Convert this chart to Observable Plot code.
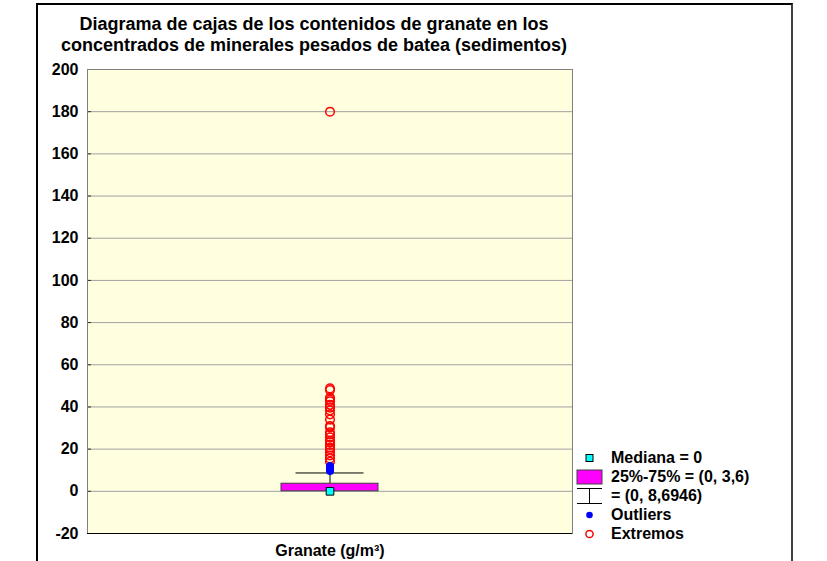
<!DOCTYPE html>
<html>
<head>
<meta charset="utf-8">
<script src="https://cdn.jsdelivr.net/npm/d3@7"></script>
<script src="https://cdn.jsdelivr.net/npm/@observablehq/plot@0.6"></script>
<style>
  html, body { margin: 0; padding: 0; background: #fff; }
  #wrap { position: relative; width: 827px; height: 561px; overflow: hidden; font-family: "Liberation Sans", Arial, sans-serif; font-weight: bold; color: #000; }
  #outer { position: absolute; left: 36px; top: 3px; width: 757px; height: 620px; border: 2px solid #000; border-right-color: #404040; box-sizing: border-box; }
  #title { position: absolute; left: 58px; width: 512px; top: 14px; text-align: center; font-size: 18px; line-height: 21px; white-space: nowrap; }
  #chart { position: absolute; left: 0; top: 0; }
  .leg { position: absolute; left: 576px; height: 20px; display: flex; align-items: center; font-size: 16px; white-space: nowrap; }
  .leg svg { width: 27px; height: 20px; margin-right: 8px; flex: none; }
</style>
</head>
<body>
<div id="wrap">
  <div id="outer"></div>
  <div id="chart"></div>
  <div id="title"></div>
  <div id="legend"></div>
</div>
<script>
// ---- data ----
const titleLines = [
  "Diagrama de cajas de los contenidos de granate en los",
  "concentrados de minerales pesados de batea (sedimentos)"
];
const categories = ["Granate (g/m³)"];
const yTicks = [-20, 0, 20, 40, 60, 80, 100, 120, 140, 160, 180, 200];
const medianValues = [0];
const q1Values = [0];
const q3Values = [3.6];
const whiskerLow = [0];
const whiskerHigh = [8.6946];
const outlierValues = [9.6, 10.2, 10.8, 11.4, 12];
const extremeValues = [14, 15.6, 17, 18.5, 20, 20.8, 22, 23.2, 24, 25.6, 27, 28, 30.3, 31, 34, 36.5, 38.4, 39.7, 41, 42.7, 43.5, 44.5, 48, 48.8, 180];
const legendLabels = ["Mediana = 0", "25%-75% = (0, 3,6)", "= (0, 8,6946)", "Outliers", "Extremos"];

// ---- build ----
const cat = categories[0];
const boxes = categories.map((c, i) => ({c, q1: q1Values[i], q3: q3Values[i], med: medianValues[i], lo: whiskerLow[i], hi: whiskerHigh[i]}));

const chart = Plot.plot({
  width: 827,
  height: 561,
  marginLeft: 87,
  marginRight: 255,
  marginTop: 69,
  marginBottom: 28,
  style: {fontFamily: "'Liberation Sans', Arial, sans-serif", fontSize: "16px", fontWeight: "bold", background: "transparent", color: "#000"},
  x: {type: "band", domain: categories, padding: 0.6667, label: null},
  y: {domain: [-20, 200], ticks: yTicks, label: null},
  marks: [
    Plot.frame({fill: "#ffffe0"}),
    Plot.ruleY(yTicks.filter(t => t > -20 && t < 200), {stroke: "#a0a0a0", strokeWidth: 1}),
    Plot.ruleY(yTicks, {stroke: "#303030", insetRight: 481}),
    Plot.frame({stroke: "#808080"}),
    Plot.ruleY([-20], {stroke: "#000"}),
    Plot.ruleX(boxes, {x: "c", y1: "q3", y2: "hi", stroke: "#000"}),
    Plot.tickY(boxes, {x: "c", y: "hi", stroke: "#000", insetLeft: 14.5, insetRight: 14.5}),
    Plot.barY(boxes, {x: "c", y1: "q1", y2: "q3", fill: "#ff00ff", stroke: "#404040", strokeWidth: 1}),
    Plot.dot(extremeValues, {x: () => cat, y: d => d, r: 4.3, stroke: "#ff0000", strokeWidth: 1.5, fill: "none"}),
    Plot.dot(outlierValues, {x: () => cat, y: d => d, r: 4, fill: "#0000ff", stroke: "none"}),
    Plot.dot(boxes, {x: "c", y: "med", symbol: "square", r: 4.3, fill: "#00ffff", stroke: "#000", strokeWidth: 1}),
    Plot.axisY({ticks: yTicks, tickSize: 0, tickPadding: 9, tickFormat: d => String(d), label: null}),
    Plot.axisX({tickSize: 0, tickPadding: 11, label: null})
  ]
});
document.getElementById("chart").appendChild(chart);

document.getElementById("title").innerHTML = titleLines.join("<br>");

// ---- legend (HTML) ----
const sym = [
  '<rect x="10" y="6.5" width="7" height="7" fill="#00ffff" stroke="#000" stroke-width="1"/>',
  '<rect x="1" y="3" width="25" height="14" fill="#ff00ff" stroke="#404040" stroke-width="1"/>',
  '<line x1="1" y1="2.5" x2="26" y2="2.5" stroke="#000"/><line x1="13.5" y1="2.5" x2="13.5" y2="17.5" stroke="#000"/><line x1="1" y1="17.5" x2="26" y2="17.5" stroke="#000"/>',
  '<circle cx="13.5" cy="10" r="3.3" fill="#0000ff"/>',
  '<circle cx="13.5" cy="10" r="3.6" fill="none" stroke="#ff0000" stroke-width="1.5"/>'
];
const rowTops = [448, 467, 486, 505, 524];
const leg = document.getElementById("legend");
legendLabels.forEach((lab, i) => {
  const d = document.createElement("div");
  d.className = "leg";
  d.style.top = rowTops[i] + "px";
  d.innerHTML = '<svg viewBox="0 0 27 20">' + sym[i] + '</svg><span>' + lab + '</span>';
  leg.appendChild(d);
});
</script>
</body>
</html>
